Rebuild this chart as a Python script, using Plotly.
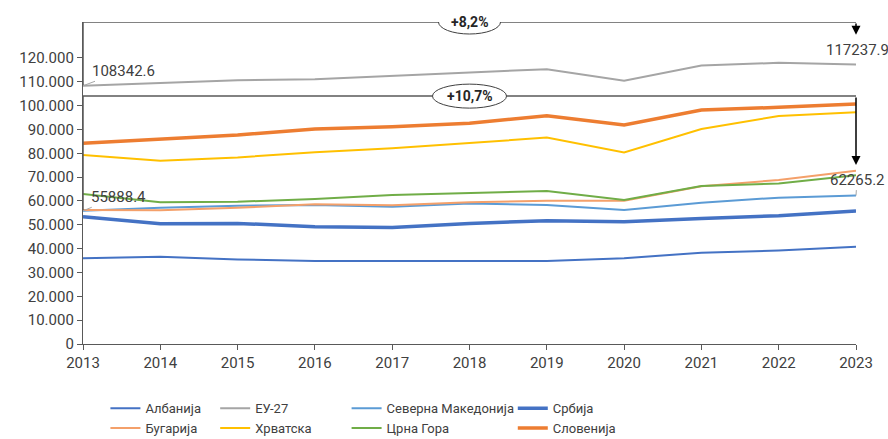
import plotly.graph_objects as go

years = list(range(2013, 2024))

albania   = [36000, 36600, 35500, 34800, 34800, 34800, 34800, 36000, 38300, 39200, 40800]
eu27      = [108342.6, 109500, 110700, 111100, 112600, 113800, 115300, 110500, 116800, 118000, 117237.9]
nmacedonia= [55888.4, 57200, 58000, 58300, 57600, 59000, 58300, 56200, 59300, 61400, 62265.2]
serbia    = [53400, 50500, 50600, 49200, 48900, 50600, 51700, 51300, 52700, 53800, 55800]
bulgaria  = [56200, 56100, 57200, 58600, 58200, 59500, 60100, 60100, 66200, 68800, 72700]
croatia   = [79300, 76900, 78300, 80500, 82100, 84200, 86600, 80400, 90200, 95700, 97200]
montenegro= [62900, 59500, 59700, 60800, 62500, 63200, 64200, 60400, 66300, 67300, 70800]
slovenia  = [84200, 85900, 87700, 90200, 91200, 92600, 95800, 91900, 98200, 99300, 100700]

names = ["Албанија", "ЕУ-27", "Северна Македонија", "Србија",
         "Бугарија", "Хрватска", "Црна Гора", "Словенија"]
series = [albania, eu27, nmacedonia, serbia, bulgaria, croatia, montenegro, slovenia]
colors = ["#4472C4", "#A5A5A5", "#5B9BD5", "#4472C4",
          "#F4A06A", "#FFC000", "#70AD47", "#ED7D31"]
widths = [2, 2, 2, 3.5, 2, 2, 2, 3.5]
legend_ids = ["legend", "legend2", "legend3", "legend4",
              "legend", "legend2", "legend3", "legend4"]

ytick_vals = list(range(0, 130000, 10000))
change_labels = ["+8,2%", "+10,7%"]

YMAX = 135100
LEVEL2 = 104000
TIP1 = 129700
TIP2 = 75100

FONT = "Roboto"
TXT = "#404040"

fig = go.Figure()
for n, s, c, w, lg in zip(names, series, colors, widths, legend_ids):
    fig.add_trace(go.Scatter(x=years, y=s, name=n, mode="lines",
                             line=dict(color=c, width=w), legend=lg))

x0, x1 = years[0], years[-1]
xm = (x0 + x1) / 2
bc = "#595959"
# bracket 1 (EU-27)
fig.add_shape(type="line", xref="x", yref="y", x0=x0, x1=x0, y0=eu27[0], y1=YMAX,
              line=dict(color=bc, width=1.5))
fig.add_shape(type="line", xref="x", yref="y", x0=x0, x1=x1, y0=YMAX, y1=YMAX,
              line=dict(color=bc, width=1.5))
# bracket 2 (North Macedonia)
fig.add_shape(type="line", xref="x", yref="y", x0=x0, x1=x0, y0=nmacedonia[0], y1=LEVEL2,
              line=dict(color=bc, width=1.5))
fig.add_shape(type="line", xref="x", yref="y", x0=x0, x1=x1, y0=LEVEL2, y1=LEVEL2,
              line=dict(color=bc, width=1.5))

for lvl, tip in [(YMAX, TIP1), (LEVEL2, TIP2)]:
    fig.add_annotation(x=x1, y=tip, ax=x1, ay=lvl, axref="x", ayref="y",
                       xref="x", yref="y", text="", showarrow=True,
                       arrowhead=2, arrowsize=1.2, arrowwidth=1.5, arrowcolor="#000000")

for lvl, lab, w in [(YMAX, change_labels[0], 31), (LEVEL2, change_labels[1], 37)]:
    fig.add_shape(type="circle", xref="x", yref="y", xsizemode="pixel", ysizemode="pixel",
                  xanchor=xm, yanchor=lvl, x0=-w, x1=w, y0=-12, y1=12,
                  fillcolor="white", line=dict(color="#404040", width=1))
    fig.add_annotation(x=xm, y=lvl, xref="x", yref="y", text="<b>" + lab + "</b>",
                       showarrow=False, font=dict(family=FONT, size=14, color="#262626"))

lblfont = dict(family=FONT, size=15, color=TXT)
fig.add_annotation(x=x0, y=eu27[0], text=f"{eu27[0]}", showarrow=True, arrowhead=0,
                   arrowwidth=1, arrowcolor="#A6A6A6", ax=40, ay=-15, font=lblfont)
fig.add_annotation(x=x0, y=nmacedonia[0], text=f"{nmacedonia[0]}", showarrow=True, arrowhead=0,
                   arrowwidth=1, arrowcolor="#A6A6A6", ax=35, ay=-14, font=lblfont)
fig.add_annotation(x=x1, y=eu27[-1], text=f"{eu27[-1]}", showarrow=False,
                   yshift=15, xshift=1, font=lblfont)
fig.add_annotation(x=x1, y=nmacedonia[-1], text=f"{nmacedonia[-1]}", showarrow=True, arrowhead=0,
                   arrowwidth=1, arrowcolor="#A6A6A6", ax=1, ay=-16, font=lblfont)

leg_common = dict(orientation="v", yanchor="top", y=-0.153, xanchor="left",
                  font=dict(family=FONT, size=13, color=TXT), bgcolor="rgba(0,0,0,0)",
                  tracegroupgap=0, itemwidth=30)

fig.update_layout(
    width=888, height=439,
    margin=dict(l=83, r=32, t=22, b=95, autoexpand=False),
    plot_bgcolor="white", paper_bgcolor="white",
    separators=",.",
    font=dict(family=FONT, size=15, color=TXT),
    showlegend=True,
    legend=dict(x=0.029, **leg_common),
    legend2=dict(x=0.171, **leg_common),
    legend3=dict(x=0.341, **leg_common),
    legend4=dict(x=0.556, **leg_common),
    xaxis=dict(range=[x0, x1], tickvals=years, ticks="outside", ticklen=5,
               tickcolor="#595959", showline=True, linecolor="#595959", linewidth=1.3,
               showgrid=False, zeroline=False, tickfont=dict(family=FONT, size=15, color=TXT)),
    yaxis=dict(range=[0, YMAX], tickvals=ytick_vals, tickformat=",d", ticks="outside",
               ticklen=5, tickcolor="#595959", showline=True, linecolor="#595959",
               linewidth=1.3, showgrid=False, zeroline=False,
               tickfont=dict(family=FONT, size=15, color=TXT)),
)

fig.write_html("out.html", config={"displayModeBar": False},
               post_script="document.body.style.margin='0px';")
